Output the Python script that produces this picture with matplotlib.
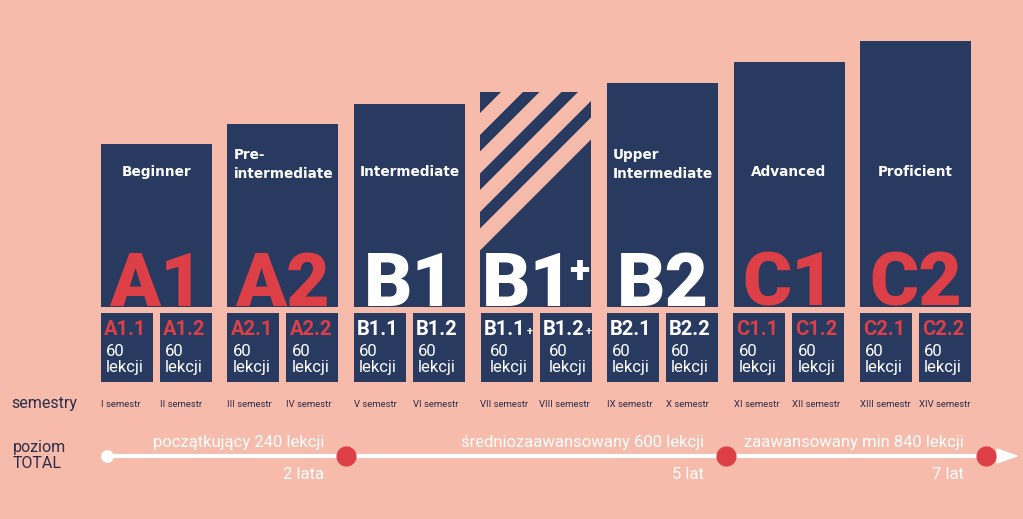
import numpy as np
import matplotlib.pyplot as plt
from matplotlib.patches import Polygon

bg = '#F6BBAA'
navy = '#283A5F'
red = '#DC3F45'
white = '#FFFFFF'
ink = '#2B2D4A'

# data
levels = ['A1', 'A2', 'B1', 'B1+', 'B2', 'C1', 'C2']
names = ['Beginner', 'Pre-\nintermediate', 'Intermediate', '',
         'Upper\nIntermediate', 'Advanced', 'Proficient']
bar_heights = [163, 183, 203, 215, 224, 245, 266]
level_colors = [red, red, white, white, white, red, red]
sublevels = [['A1.1', 'A1.2'], ['A2.1', 'A2.2'], ['B1.1', 'B1.2'],
             ['B1.1+', 'B1.2+'], ['B2.1', 'B2.2'], ['C1.1', 'C1.2'],
             ['C2.1', 'C2.2']]
lessons = [60] * 14
semesters = ['I semestr', 'II semestr', 'III semestr', 'IV semestr', 'V semestr',
             'VI semestr', 'VII semestr', 'VIII semestr', 'IX semestr', 'X semestr',
             'XI semestr', 'XII semestr', 'XIII semestr', 'XIV semestr']
stages = ['początkujący 240 lekcji', 'średniozaawansowany 600 lekcji',
          'zaawansowany min 840 lekcji']
stage_end = [4, 10, 14]   # semesters
durations = ['2 lata', '5 lat', '7 lat']

# layout: x in level index units, y in pixels from bottom
PX = 126.5
X0 = 156.5
def px2x(p):
    return (p - X0) / PX

base = 212
bar_w = 111 / PX
sub_w = 52 / PX
sub_off = (111 - 52) / 2 / PX
sub_top, sub_bot = 206, 137
big = dict(fontsize=54, fontweight=900, family='Roboto', va='baseline', zorder=3)

fig = plt.figure(figsize=(10.23, 5.19), dpi=100, facecolor=bg)
ax = fig.add_axes([0, 0, 1, 1])
ax.set_facecolor(bg)
ax.set_xlim(px2x(0), px2x(1023))
ax.set_ylim(0, 519)
ax.axis('off')

xs = np.arange(len(levels))
bars = ax.bar(xs, bar_heights, width=bar_w, bottom=base, color=navy, zorder=1)

# stripes on B1+
b = bars[3]
left_px = b.get_x() * PX + X0
right_px = (b.get_x() + b.get_width()) * PX + X0
for c0 in [594, 632.5, 671, 709.5]:
    c1 = c0 + 20
    # lines x_px + y_down = c  ->  y_up = 519 - c + x_px
    poly = [(px2x(left_px - 5), 519 - c0 + left_px - 5),
            (px2x(right_px + 5), 519 - c0 + right_px + 5),
            (px2x(right_px + 5), 519 - c1 + right_px + 5),
            (px2x(left_px - 5), 519 - c1 + left_px - 5)]
    p = Polygon(poly, closed=True, color=bg, zorder=2)
    ax.add_patch(p)
    p.set_clip_path(b)

for i, lv in enumerate(levels):
    # big level letters
    if lv.endswith('+'):
        ax.text(i - bar_w / 2 + 1 / PX, base + 1, lv[:-1], color=level_colors[i],
                ha='left', **big)
        ax.text(px2x(569), 246, '+', fontsize=27, fontweight=900,
                color=level_colors[i], ha='left', va='center',
                family='Roboto', zorder=4)
    else:
        ax.text(i, base + 1, lv, color=level_colors[i], ha='center', **big)
    # level names
    nm = names[i]
    if '\n' in nm:
        l1, l2 = nm.split('\n')
        ax.text(i - bar_w / 2 + 6 / PX, 364, l1, fontsize=9.8, fontweight='bold',
                color=white, ha='left', va='center', family='DejaVu Sans')
        ax.text(i - bar_w / 2 + 6 / PX, 345, l2, fontsize=9.8, fontweight='bold',
                color=white, ha='left', va='center', family='DejaVu Sans')
    elif nm:
        ax.text(i, 347, nm, fontsize=9.8, fontweight='bold', color=white,
                ha='center', va='center', family='DejaVu Sans')

    # sub boxes
    for j, sl in enumerate(sublevels[i]):
        cx = i + (sub_off if j else -sub_off)
        ax.bar(cx, sub_top - sub_bot, width=sub_w, bottom=sub_bot, color=navy, zorder=1)
        lx = cx - sub_w / 2 + 3 / PX
        scol = red if level_colors[i] == red else white
        if sl.endswith('+'):
            ax.text(lx, 184, sl[:-1], fontsize=14.5, fontweight='bold', color=scol,
                    ha='left', va='baseline', family='Roboto')
            ax.text(lx + 43 / PX, 184, '+', fontsize=8, fontweight='bold', color=scol,
                    ha='left', va='baseline', family='Roboto')
            ind = 6
        else:
            ax.text(lx, 184, sl, fontsize=14.5, fontweight='bold', color=scol,
                    ha='left', va='baseline', family='Roboto')
            ind = 2
        k = 2 * i + j
        ax.text(lx + ind / PX, 163, str(lessons[k]), fontsize=12, color=white,
                ha='left', va='baseline', family='Roboto')
        ax.text(lx + ind / PX, 147, 'lekcji', fontsize=12, color=white,
                ha='left', va='baseline', family='Roboto')
        ax.text(cx - sub_w / 2, 112, semesters[k], fontsize=6.8, color=ink,
                ha='left', va='baseline', family='Roboto')

# left labels
ax.text(px2x(11), 111, 'semestry', fontsize=11.5, color=ink, ha='left',
        va='baseline', family='Roboto')
ax.text(px2x(13), 67, 'poziom', fontsize=11.5, color=ink, ha='left',
        va='baseline', family='Roboto')
ax.text(px2x(13), 51, 'TOTAL', fontsize=11.5, color=ink, ha='left',
        va='baseline', family='Roboto')

# timeline
ty = 63
start_x = px2x(107)
ends = [s / 2 - 0.5 for s in stage_end]
ends[-1] = ends[-1] + 7 / PX
arrow_tip = px2x(1017)
ax.plot([start_x, px2x(1000)], [ty, ty], color=white, lw=3, solid_capstyle='butt', zorder=2)
ax.add_patch(Polygon([(px2x(997), ty + 7), (arrow_tip, ty), (px2x(997), ty - 7)],
                     closed=True, color=white, zorder=2))
ax.scatter([start_x], [ty], s=85, color=white, zorder=3, linewidths=0)
ax.scatter(ends, [ty] * len(ends), s=210, color=red, zorder=3, linewidths=0)
for e, st, du in zip(ends, stages, durations):
    ax.text(e - 22 / PX, 72, st, fontsize=12, color=white, ha='right',
            va='baseline', family='Roboto')
    ax.text(e - 22 / PX, 40, du, fontsize=12, color=white, ha='right',
            va='baseline', family='Roboto')

fig.savefig('out.png', dpi=100, facecolor=bg)
